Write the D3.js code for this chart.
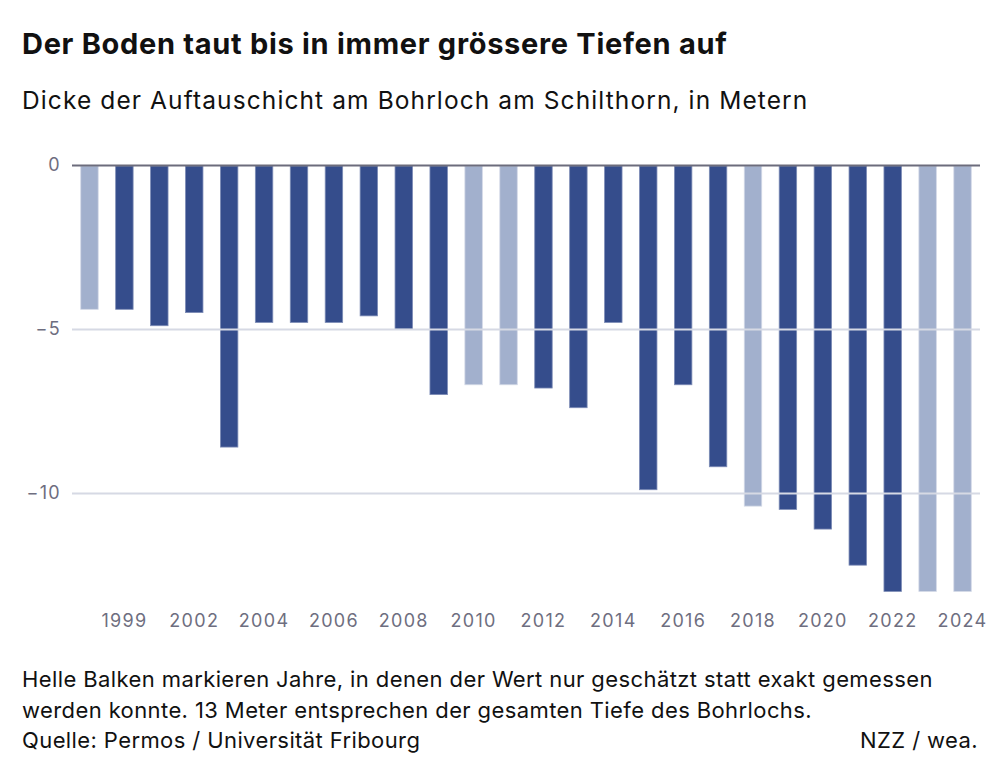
<!DOCTYPE html>
<html>
<head>
<meta charset="utf-8">
<script src="https://cdn.jsdelivr.net/npm/d3@7"></script>
<style>
  body { margin: 0; background: #fff; }
  svg text { font-family: "Inter", "Roboto", sans-serif; }
  .title { font-weight: 700; font-size: 29px; letter-spacing: 0.7px; fill: #111; }
  .subtitle { font-size: 24.5px; letter-spacing: 1.1px; fill: #111; }
  .tick text { font-size: 18px; letter-spacing: 1.3px; fill: #6e6e80; }
  .note { font-size: 22px; letter-spacing: 0.4px; fill: #111; }
</style>
</head>
<body>
<div id="chart"></div>
<script>
// years as categories (one year is missing in the source series)
const years = ["1998", "1999", "2000", "2002", "2003", "2004", "2005", "2006", "2007", "2008",
  "2009", "2010", "2011", "2012", "2013", "2014", "2015", "2016", "2017", "2018",
  "2019", "2020", "2021", "2022", "2023", "2024"]
// active layer thickness in metres (negative = depth)
const depth = [-4.4, -4.4, -4.9, -4.5, -8.6, -4.8, -4.8, -4.8, -4.6, -5.0,
  -7.0, -6.7, -6.7, -6.8, -7.4, -4.8, -9.9, -6.7, -9.2, -10.4,
  -10.5, -11.1, -12.2, -13, -13, -13]
// true = only estimated (light bar)
const estimated = [true, false, false, false, false, false, false, false, false, false,
  false, true, true, false, false, false, false, false, false, true,
  false, false, false, false, true, true]
const xTickLabels = ["1999", "2002", "2004", "2006", "2008", "2010", "2012", "2014", "2016", "2018", "2020", "2022", "2024"]
const yTicks = [0, -5, -10]

const width = 1000, height = 778
const margin = { top: 165, right: 20, bottom: 187, left: 72 }

const svg = d3.select("#chart").append("svg")
  .attr("width", width)
  .attr("height", height)

svg.append("text").attr("class", "title").attr("x", 22).attr("y", 54)
  .text("Der Boden taut bis in immer grössere Tiefen auf")
svg.append("text").attr("class", "subtitle").attr("x", 22).attr("y", 109)
  .text("Dicke der Auftauschicht am Bohrloch am Schilthorn, in Metern")

const x = d3.scaleBand()
  .domain(years)
  .range([margin.left, width - margin.right])
  .paddingInner(0.5)
  .paddingOuter(0.25)

const y = d3.scaleLinear()
  .domain([0, -13])
  .range([margin.top, margin.top + 426.4])

// y grid + labels
const yAxis = svg.append("g")
  .attr("transform", "translate(" + margin.left + ",0)")
  .call(d3.axisLeft(y).tickValues(yTicks).tickSize(-(width - margin.right - margin.left))
    .tickFormat(d => d3.format("")(d).replace("-", "\u2212")))
yAxis.select(".domain").remove()
yAxis.selectAll(".tick line")
  .attr("stroke", (d) => d === 0 ? "#6c6c7c" : "#d6d9e4")
  .attr("stroke-width", 2)
yAxis.selectAll(".tick text").attr("x", -11).attr("dy", "0.3em")

// bars
svg.append("g").selectAll("rect")
  .data(years)
  .enter().append("rect")
  .attr("x", (d) => x(d))
  .attr("width", x.bandwidth())
  .attr("y", y(0) + 1)
  .attr("height", (d, i) => y(depth[i]) - y(0) - 1)
  .attr("fill", (d, i) => estimated[i] ? "#a2b0cd" : "#354d8c")
  .attr("stroke", (d, i) => estimated[i] ? "#d3d9e7" : "#7d8cb6")
  .attr("stroke-width", 0.8)

// keep zero line on top
yAxis.raise()
yAxis.selectAll(".tick").filter((d) => d !== 0).lower()

// x labels
const xAxis = svg.append("g")
  .attr("transform", "translate(0," + (y(-13) + 16) + ")")
  .call(d3.axisBottom(x).tickValues(xTickLabels.filter((d) => years.includes(d))).tickSize(0))
xAxis.select(".domain").remove()
xAxis.selectAll(".tick text").attr("dy", "0.9em")

const notes = [
  "Helle Balken markieren Jahre, in denen der Wert nur geschätzt statt exakt gemessen",
  "werden konnte. 13 Meter entsprechen der gesamten Tiefe des Bohrlochs.",
  "Quelle: Permos / Universität Fribourg"
]
svg.append("g").selectAll("text")
  .data(notes)
  .enter().append("text")
  .attr("class", "note")
  .attr("x", 22)
  .attr("y", (d, i) => 687 + i * 30.5)
  .text((d) => d)

svg.append("text").attr("class", "note")
  .attr("x", 978).attr("y", 748)
  .attr("text-anchor", "end")
  .text("NZZ / wea.")
</script>
</body>
</html>
